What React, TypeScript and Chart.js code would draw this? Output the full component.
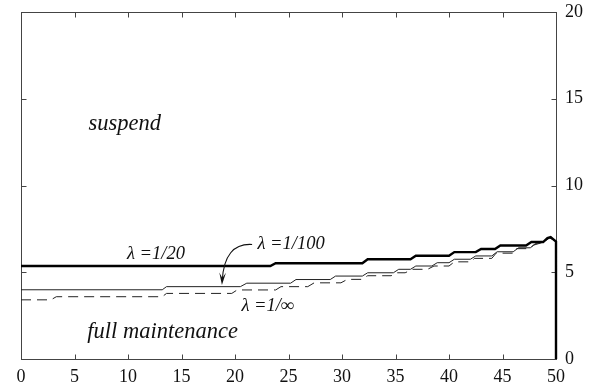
import React, { useEffect, useRef } from "react";
import { Chart, registerables } from "chart.js";

Chart.register(...registerables);

// λ = 1/20 (thick)
const thickX = [0, 23.3, 23.8, 31.9, 32.4, 36.4, 36.9, 40.0, 40.5, 42.5, 43.0, 44.3, 44.8, 47.2, 47.7, 48.8, 49.2, 49.5, 50, 50];
const thickY = [5.36, 5.36, 5.52, 5.52, 5.75, 5.75, 5.95, 5.95, 6.16, 6.16, 6.34, 6.34, 6.54, 6.54, 6.74, 6.74, 6.97, 7.03, 6.77, 0];

// λ = 1/100 (thin)
const thinX = [0, 13.2, 13.6, 20.5, 21.1, 25.2, 25.7, 28.9, 29.4, 31.9, 32.4, 34.8, 35.3, 36.4, 36.9, 38.4, 38.9, 40.0, 40.5, 42.0, 42.5, 44.0, 44.5, 46.0, 46.5, 47.6, 48.1, 48.7, 49.4, 50];
const thinY = [3.99, 3.99, 4.17, 4.17, 4.37, 4.37, 4.58, 4.58, 4.78, 4.78, 4.97, 4.97, 5.17, 5.17, 5.36, 5.36, 5.55, 5.55, 5.75, 5.75, 5.94, 5.94, 6.18, 6.18, 6.41, 6.41, 6.66, 6.71, 7.0, 6.81];

// λ = 1/∞ (dashed)
const dashX = [0, 2.8, 3.3, 13.2, 13.6, 19.7, 20.2, 23.8, 24.3, 26.8, 27.4, 29.9, 30.5, 31.8, 32.4, 34.6, 35.0, 35.9, 36.6, 38.0, 38.6, 40.0, 40.5, 42.0, 42.4, 44.0, 44.4, 46.0, 46.3, 47.5, 47.9, 48.7, 49.4, 50];
const dashY = [3.41, 3.41, 3.59, 3.59, 3.78, 3.78, 3.98, 3.98, 4.17, 4.17, 4.39, 4.39, 4.59, 4.59, 4.80, 4.80, 4.97, 4.97, 5.17, 5.17, 5.36, 5.36, 5.6, 5.6, 5.8, 5.8, 6.1, 6.1, 6.36, 6.36, 6.56, 6.71, 6.97, 6.81];

const xTicks = [0, 5, 10, 15, 20, 25, 30, 35, 40, 45, 50];
const yTicks = [0, 5, 10, 15, 20];

// text annotations (data coordinates, left/baseline)
const labelTexts = ["suspend", "full maintenance", "λ =1/20", "λ =1/100", "λ =1/∞"];
const labelX = [6.3, 6.2, 9.9, 22.1, 20.6];
const labelY = [13.2, 1.21, 5.76, 6.34, 2.77];
const labelSize = [22.5, 22.5, 18.5, 18.5, 18.5];

const toPts = (xs: number[], ys: number[]) => xs.map((x, i) => ({ x, y: ys[i] }));

const framePlugin = {
  id: "frame",
  beforeDatasetsDraw(chart: any) {
    const { ctx, chartArea: a, scales } = chart;
    const xs = scales.x, ys = scales.y;
    ctx.save();
    ctx.strokeStyle = "#444";
    ctx.lineWidth = 1;
    const L = Math.round(a.left) + 0.5, R = Math.round(a.right) + 0.5;
    const T = Math.round(a.top) + 0.5, B = Math.round(a.bottom) + 0.5;
    ctx.strokeRect(L, T, R - L, B - T);
    ctx.beginPath();
    xTicks.forEach((v) => {
      if (v === 0 || v === 50) return;
      const px = Math.round(xs.getPixelForValue(v)) + 0.5;
      ctx.moveTo(px, B);
      ctx.lineTo(px, B - 5);
      ctx.moveTo(px, T);
      ctx.lineTo(px, T + 5);
    });
    yTicks.forEach((v) => {
      if (v === 0 || v === 20) return;
      const py = Math.round(ys.getPixelForValue(v)) + 0.5;
      ctx.moveTo(R, py);
      ctx.lineTo(R - 5, py);
      ctx.moveTo(L, py);
      ctx.lineTo(L + 5, py);
    });
    ctx.stroke();
    ctx.restore();
  },
  afterDatasetsDraw(chart: any) {
    const { ctx, scales } = chart;
    const xs = scales.x, ys = scales.y;
    ctx.save();
    ctx.fillStyle = "#111";
    ctx.textAlign = "left";
    ctx.textBaseline = "alphabetic";
    labelTexts.forEach((t, i) => {
      ctx.font = `italic ${labelSize[i]}px "Liberation Serif", "DejaVu Serif", serif`;
      ctx.fillText(t, xs.getPixelForValue(labelX[i]), ys.getPixelForValue(labelY[i]));
    });
    // curved arrow from λ=1/100 label to thin line
    const sx = xs.getPixelForValue(21.6), sy = ys.getPixelForValue(6.6);
    const cx = xs.getPixelForValue(19.0), cy = ys.getPixelForValue(6.7);
    const ex = xs.getPixelForValue(18.8), ey = ys.getPixelForValue(4.5);
    ctx.strokeStyle = "#111";
    ctx.lineWidth = 1.1;
    ctx.beginPath();
    ctx.moveTo(sx, sy);
    ctx.quadraticCurveTo(cx, cy, ex, ey);
    ctx.stroke();
    const ang = Math.atan2(ey - cy, ex - cx);
    const len = 9, half = 0.38;
    ctx.beginPath();
    ctx.moveTo(ex + Math.cos(ang) * 4, ey + Math.sin(ang) * 4);
    ctx.lineTo(ex - Math.cos(ang - half) * len, ey - Math.sin(ang - half) * len);
    ctx.lineTo(ex - Math.cos(ang) * 3, ey - Math.sin(ang) * 3);
    ctx.lineTo(ex - Math.cos(ang + half) * len, ey - Math.sin(ang + half) * len);
    ctx.closePath();
    ctx.fill();
    ctx.restore();
  },
};

export default function App() {
  const ref = useRef<HTMLCanvasElement>(null);
  useEffect(() => {
    const font = { family: '"Liberation Serif", "DejaVu Serif", serif', size: 18 };
    const chart = new Chart(ref.current!, {
      type: "line",
      data: {
        datasets: [
          {
            label: "λ=1/20",
            data: toPts(thickX, thickY),
            borderColor: "#000",
            borderWidth: 2.4,
            pointRadius: 0,
            tension: 0,
            clip: 4,
          } as any,
          {
            label: "λ=1/100",
            data: toPts(thinX, thinY),
            borderColor: "#222",
            borderWidth: 1,
            pointRadius: 0,
            tension: 0,
          },
          {
            label: "λ=1/∞",
            data: toPts(dashX, dashY),
            borderColor: "#222",
            borderWidth: 1,
            borderDash: [10, 6],
            pointRadius: 0,
            tension: 0,
          },
        ],
      },
      options: {
        responsive: false,
        animation: false,
        events: [],
        layout: { padding: { left: 21, top: 12, right: 0, bottom: 0 } },
        plugins: { legend: { display: false }, tooltip: { enabled: false } },
        scales: {
          x: {
            type: "linear",
            min: 0,
            max: 50,
            grid: { display: false, drawTicks: false },
            border: { display: false },
            afterFit: (s: any) => { s.height = 28; s.paddingLeft = 0; s.paddingRight = 0; },
            ticks: { stepSize: 5, color: "#111", font, padding: 7, maxRotation: 0 },
          },
          y: {
            type: "linear",
            position: "right",
            min: 0,
            max: 20,
            grid: { display: false, drawTicks: false },
            border: { display: false },
            afterFit: (s: any) => { s.width = 41; s.paddingTop = 0; s.paddingBottom = 0; },
            ticks: { stepSize: 5, color: "#111", font, padding: 9 },
          },
        },
      },
      plugins: [framePlugin],
    });
    return () => chart.destroy();
  }, []);
  return (
    <div style={{ position: "fixed", left: 0, top: 0, width: 597, height: 387, background: "#fff" }}>
      <canvas ref={ref} width={597} height={387} style={{ display: "block" }} />
    </div>
  );
}
